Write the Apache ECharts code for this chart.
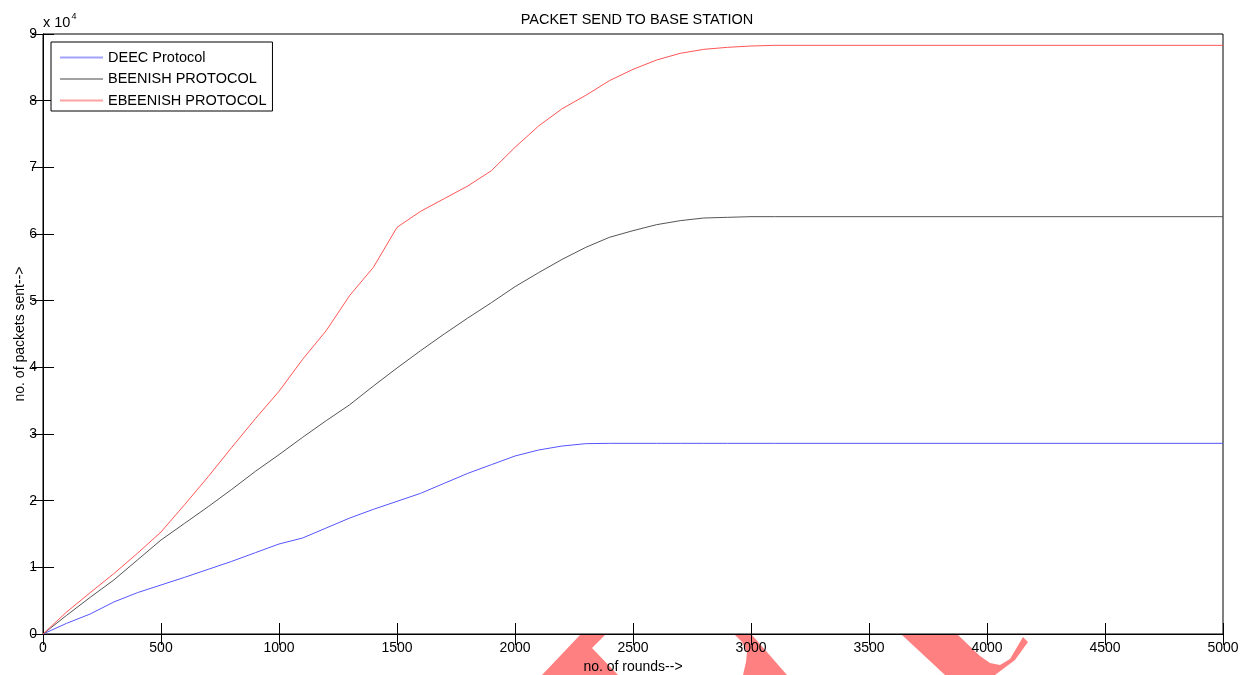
<!DOCTYPE html>
<html>
<head>
<meta charset="utf-8">
<script src="https://cdn.jsdelivr.net/npm/echarts@6/dist/echarts.min.js"></script>
<style>
html,body{margin:0;padding:0;background:#fff;}
#chart{width:1245px;height:675px;}
</style>
</head>
<body>
<div id="chart"></div>
<script>
const rounds = [0,100,200,300,400,500,600,700,800,900,1000,1100,1200,1300,1400,1500,1600,1700,1800,1900,2000,2100,2200,2300,2400,2500,2600,2700,2800,2900,3000,3100,5000];
const deec = [0,1600,3000,4800,6200,7350,8500,9700,10900,12200,13500,14400,15900,17400,18700,19900,21100,22600,24100,25400,26700,27600,28200,28550,28600,28600,28600,28600,28600,28600,28600,28600,28600];
const beenish = [0,2800,5500,8100,11100,14100,16600,19100,21700,24400,26900,29500,32000,34400,37200,39900,42500,45000,47400,49700,52100,54200,56200,58000,59500,60500,61400,62000,62400,62500,62600,62600,62600];
const ebeenish = [0,3300,6200,9050,12100,15300,19400,23600,28000,32300,36400,41200,45500,50800,55000,61000,63400,65300,67200,69500,73000,76200,78800,80800,83000,84700,86100,87100,87700,88000,88200,88300,88300];
const seriesNames = ['DEEC Protocol','BEENISH PROTOCOL','EBEENISH PROTOCOL'];
const xTicks = {min:0, max:5000, interval:500};
const yTicks = {min:0, max:90000, interval:10000};

const font = 'Liberation Sans, Arial, sans-serif';
const chart = echarts.init(document.getElementById('chart'), null, {renderer:'canvas'});
const pair = arr => rounds.map((r,i)=>[r, arr[i]]);
const tickStyle = {show:true, inside:true, length:11, lineStyle:{color:'#000', width:1}};
const colors = ['#5555ff','#555555','#ff5555'];

const option = {
  animation:false,
  backgroundColor:'#fff',
  color:colors,
  title:{text:'PACKET SEND TO BASE STATION', left:632, top:7, textAlign:'center',
    textStyle:{fontFamily:font, fontSize:14.5, fontWeight:'normal', color:'#000'}},
  grid:{left:43, right:22, top:34, bottom:41, outerBoundsMode:'none', containLabel:false,
    show:true, borderColor:'#000', borderWidth:1, backgroundColor:'transparent'},
  legend:{
    orient:'vertical', left:51, top:42, padding:[8,6,3,9], itemGap:6.5,
    itemWidth:43, itemHeight:2, icon:'rect', borderColor:'#000', borderWidth:1, backgroundColor:'#fff',
    itemStyle:{opacity:0.55},
    textStyle:{fontFamily:font, fontSize:14.5, color:'#000', lineHeight:14},
    data:seriesNames
  },
  xAxis:[
    {type:'value', min:xTicks.min, max:xTicks.max, interval:xTicks.interval,
     name:'no. of rounds-->', nameLocation:'middle', nameGap:25,
     nameTextStyle:{fontFamily:font, fontSize:14, color:'#000'},
     axisLine:{show:true, lineStyle:{color:'#000'}}, axisTick:tickStyle,
     axisLabel:{fontFamily:font, fontSize:14, color:'#000', margin:7, formatter:v=>String(v)},
     splitLine:{show:false}},
    {type:'value', position:'top', min:xTicks.min, max:xTicks.max, interval:xTicks.interval,
     axisLine:{show:true, lineStyle:{color:'#000'}}, axisTick:tickStyle,
     axisLabel:{show:false}, splitLine:{show:false}}
  ],
  yAxis:[
    {type:'value', min:yTicks.min, max:yTicks.max, interval:yTicks.interval,
     name:'no. of packets sent-->', nameLocation:'middle', nameGap:16, nameMoveOverlap:false,
     nameTextStyle:{fontFamily:font, fontSize:14, color:'#000'},
     axisLine:{show:true, lineStyle:{color:'#000'}}, axisTick:tickStyle,
     axisLabel:{fontFamily:font, fontSize:14, color:'#000', margin:6, formatter:v=>String(v/10000)},
     splitLine:{show:false}},
    {type:'value', position:'right', min:yTicks.min, max:yTicks.max, interval:yTicks.interval,
     axisLine:{show:true, lineStyle:{color:'#000'}}, axisTick:tickStyle,
     axisLabel:{show:false}, splitLine:{show:false}}
  ],
  graphic:[
    {type:'text', left:43, top:12, z:10,
     style:{text:'{a|x 10}{s|4}', rich:{a:{fontFamily:font, fontSize:14.5, fill:'#000', verticalAlign:'bottom'},
                                        s:{fontFamily:font, fontSize:9, fill:'#000', verticalAlign:'top', padding:[0,0,9,1]}}}},
    {type:'polygon', z:-5, silent:true,
     shape:{points:[[580,635],[605,635],[592,648],[618,675],[542,675]]},
     style:{fill:'#ff8080'}},
    {type:'polygon', z:-5, silent:true,
     shape:{points:[[735,635],[752,635],[787,675],[743,675],[746,662],[747,652],[742,642]]},
     style:{fill:'#ff8080'}},
    {type:'polygon', z:-5, silent:true,
     shape:{points:[[902,635],[958,635],[980,656],[990,663],[1000,665],[1010,659],[1023,637],[1028,642],[1015,660],[995,675],[945,675]]},
     style:{fill:'#ff8080'}}
  ],
  series:[
    {name:seriesNames[0], type:'line', data:pair(deec), showSymbol:false, symbol:'none',
     lineStyle:{color:colors[0], width:1}, itemStyle:{color:colors[0]}},
    {name:seriesNames[1], type:'line', data:pair(beenish), showSymbol:false, symbol:'none',
     lineStyle:{color:colors[1], width:1}, itemStyle:{color:colors[1]}},
    {name:seriesNames[2], type:'line', data:pair(ebeenish), showSymbol:false, symbol:'none',
     lineStyle:{color:colors[2], width:1}, itemStyle:{color:colors[2]}}
  ]
};
chart.setOption(option);
</script>
</body>
</html>
